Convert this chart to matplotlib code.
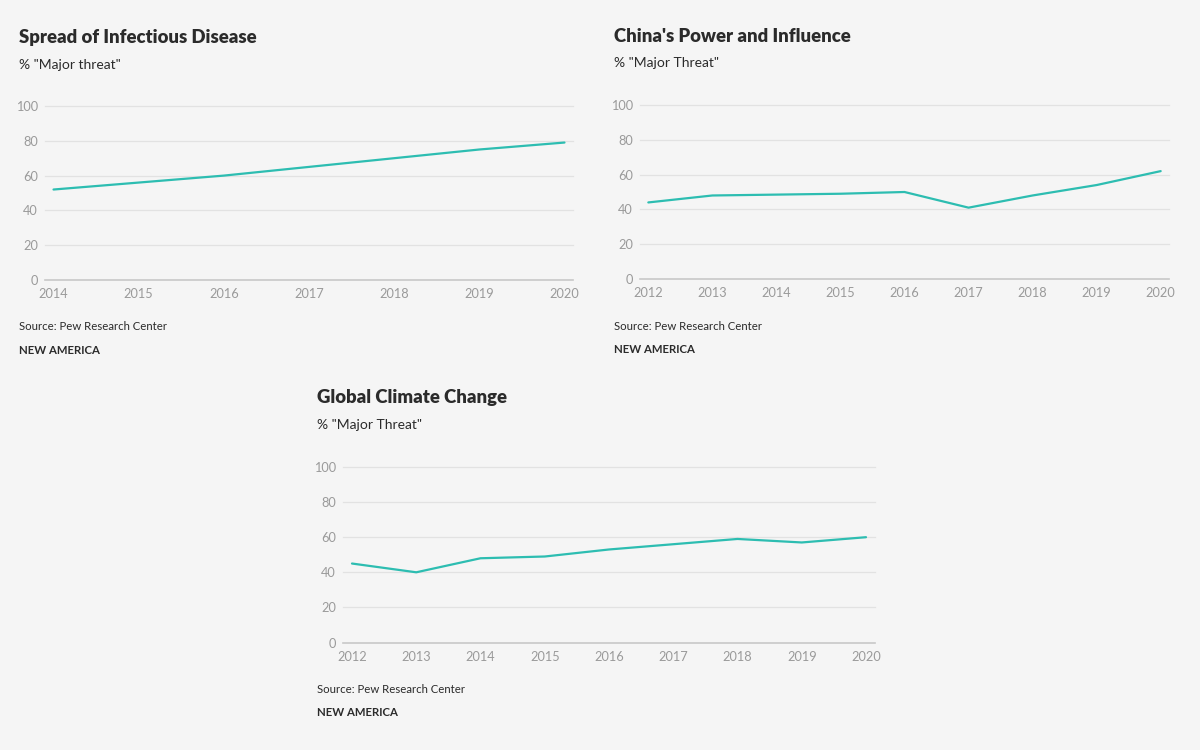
import matplotlib
matplotlib.use("Agg")
import matplotlib.pyplot as plt

plt.rcParams['font.family'] = ['Lato', 'DejaVu Sans']

# ---- data ----
disease_years = [2014, 2015, 2016, 2017, 2018, 2019, 2020]
disease_values = [52, 56, 60, 65, 70, 75, 79]

china_years = [2012, 2013, 2014, 2015, 2016, 2017, 2018, 2019, 2020]
china_values = [44, 48, 48.5, 49, 50, 41, 48, 54, 62]

climate_years = [2012, 2013, 2014, 2015, 2016, 2017, 2018, 2019, 2020]
climate_values = [45, 40, 48, 49, 53, 56, 59, 57, 60]

y_ticks = [0, 20, 40, 60, 80, 100]

titles = ["Spread of Infectious Disease", "China's Power and Influence", "Global Climate Change"]
subtitles = ['% "Major threat"', '% "Major Threat"', '% "Major Threat"']
source_text = "Source: Pew Research Center"
brand_text = "NEW AMERICA"

W, H = 1200, 750
BG = '#f5f5f5'
LINE = '#2dbdb1'
GRID = '#e2e2e2'
AXIS = '#c8c8c8'
TICK = '#9a9a9a'
DARK = '#2b2b2b'

fig = plt.figure(figsize=(W / 100, H / 100), dpi=100, facecolor=BG)


def fx(x):
    return x / W


def fy(y):
    return 1 - y / H


def panel(years, values, title, subtitle, text_x, title_y, ax_left, ax_right, ax_top, ax_bottom, pad):
    ax = fig.add_axes([fx(ax_left), fy(ax_bottom), (ax_right - ax_left) / W, (ax_bottom - ax_top) / H])
    ax.set_facecolor(BG)
    ax.plot(years, values, color=LINE, lw=1.6, solid_joinstyle='round', solid_capstyle='round', zorder=3)
    ax.set_ylim(0, 100)
    ax.set_xlim(years[0] - pad, years[-1] + pad)
    ax.set_yticks(y_ticks)
    ax.set_xticks(years)
    ax.set_xticklabels([str(y) for y in years])
    for v in y_ticks[1:]:
        ax.axhline(v, color=GRID, lw=0.9, zorder=1, clip_on=False)
    ax.axhline(0, color=AXIS, lw=1.2, zorder=2, clip_on=False)
    for s in ax.spines.values():
        s.set_visible(False)
    ax.tick_params(axis='both', length=0, colors=TICK, labelsize=9.2)
    ax.tick_params(axis='x', pad=6)
    ax.tick_params(axis='y', pad=5)
    fig.text(fx(text_x), fy(title_y), title, fontsize=13.3, fontweight='heavy', color=DARK, va='center', ha='left')
    fig.text(fx(text_x), fy(title_y + 27), subtitle, fontsize=10, color=DARK, va='center', ha='left')
    fig.text(fx(text_x), fy(ax_bottom + 47), source_text, fontsize=8.2, color=DARK, va='center', ha='left')
    fig.text(fx(text_x), fy(ax_bottom + 70), brand_text, fontsize=8.2, fontweight='bold', color=DARK, va='center', ha='left')
    return ax


panel(disease_years, disease_values, titles[0], subtitles[0], 19, 38, 45, 573, 106, 280, 0.1)
panel(china_years, china_values, titles[1], subtitles[1], 614, 36, 640, 1169, 105, 279, 0.13)
panel(climate_years, climate_values, titles[2], subtitles[2], 317, 398, 343, 875, 467, 642.5, 0.14)

fig.savefig("out.png", dpi=100, facecolor=BG)
